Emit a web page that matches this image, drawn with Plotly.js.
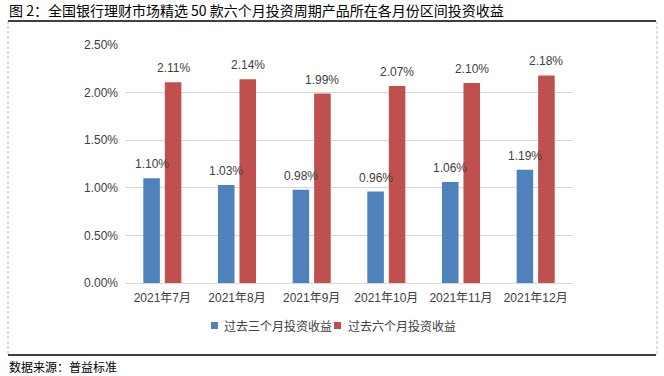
<!DOCTYPE html>
<html>
<head>
<meta charset="utf-8">
<script src="https://cdn.plot.ly/plotly-3.0.1.min.js"></script>
<style>
html,body{margin:0;padding:0;background:#fff;}
#chart{width:664px;height:376px;}
</style>
</head>
<body>
<div id="chart"></div>
<script>
// ---- data ----
const categories = ['2021年7月','2021年8月','2021年9月','2021年10月','2021年11月','2021年12月'];
const threeMonthReturn = [1.10, 1.03, 0.98, 0.96, 1.06, 1.19];
const sixMonthReturn = [2.11, 2.14, 1.99, 2.07, 2.10, 2.18];
const seriesNames = ['过去三个月投资收益', '过去六个月投资收益'];
const yTickVals = [0, 0.5, 1.0, 1.5, 2.0, 2.5];
const yTickText = ['0.00%', '0.50%', '1.00%', '1.50%', '2.00%', '2.50%'];
const titleText = '图 2：全国银行理财市场精选 50 款六个月投资周期产品所在各月份区间投资收益';
const sourceText = '数据来源：普益标准';

// ---- layout geometry ----
const W = 664, H = 376;
const M = {l: 125, r: 91, t: 45, b: 93};
const PW = W - M.l - M.r, PH = H - M.t - M.b;
const px = x => (x - M.l) / PW;
const py = y => (H - M.b - y) / PH;

const colors = ['#4F81BD', '#C0504D'];
const numFont = 'Liberation Sans, Arial, Noto Sans CJK SC, sans-serif';
const cjkFont = 'Noto Sans CJK SC, sans-serif';
const textColor = '#404040';

const traces = [
  {type: 'bar', name: seriesNames[0], x: categories, y: threeMonthReturn, marker: {color: colors[0]}, hoverinfo: 'skip'},
  {type: 'bar', name: seriesNames[1], x: categories, y: sixMonthReturn, marker: {color: colors[1]}, hoverinfo: 'skip'}
];

const bargap = 0.424, bargroupgap = 0.23;
const slot = PW / categories.length * (1 - bargap) / 2;

const annotations = [];
[threeMonthReturn, sixMonthReturn].forEach((vals, si) => {
  vals.forEach((v, i) => {
    annotations.push({
      x: categories[i], y: v, xref: 'x', yref: 'y',
      text: v.toFixed(2) + '%', showarrow: false,
      xanchor: 'center', yanchor: 'bottom',
      xshift: (si === 0 ? -1 : 1) * slot / 2, yshift: 5,
      font: {family: numFont, size: 12, color: textColor}
    });
  });
});
annotations.push({
  xref: 'paper', yref: 'paper', x: px(7), y: py(10), xanchor: 'left', yanchor: 'middle',
  text: titleText, showarrow: false, font: {family: cjkFont, size: 14, color: '#000'}
});
annotations.push({
  xref: 'paper', yref: 'paper', x: px(7), y: py(366), xanchor: 'left', yanchor: 'middle',
  text: sourceText, showarrow: false, font: {family: cjkFont, size: 12, color: '#000'}
});
// custom legend text
const legendItems = [{sq: 211, tx: 222}, {sq: 334, tx: 346}];
legendItems.forEach((it, i) => {
  annotations.push({
    xref: 'paper', yref: 'paper', x: px(it.tx), y: py(325.5), xanchor: 'left', yanchor: 'middle',
    text: seriesNames[i], showarrow: false, font: {family: cjkFont, size: 12, color: textColor}
  });
});

const shapes = [
  {type: 'line', xref: 'paper', yref: 'paper', x0: px(8), x1: px(8), y0: py(21), y1: py(355), line: {color: '#bfbfbf', width: 1, dash: '3px,2px'}},
  {type: 'line', xref: 'paper', yref: 'paper', x0: px(657), x1: px(657), y0: py(21), y1: py(355), line: {color: '#bfbfbf', width: 1, dash: '3px,2px'}},
  {type: 'line', xref: 'paper', yref: 'paper', x0: px(8), x1: px(656), y0: py(21), y1: py(21), line: {color: '#000', width: 1.5}},
  {type: 'line', xref: 'paper', yref: 'paper', x0: px(8), x1: px(656), y0: py(355), y1: py(355), line: {color: '#000', width: 1.5}}
];
legendItems.forEach((it, i) => {
  shapes.push({type: 'rect', xref: 'paper', yref: 'paper', x0: px(it.sq), x1: px(it.sq + 7), y0: py(329), y1: py(322), line: {width: 0}, fillcolor: colors[i]});
});

const layout = {
  width: W, height: H,
  margin: M,
  paper_bgcolor: '#fff', plot_bgcolor: '#fff',
  barmode: 'group', bargap: bargap, bargroupgap: bargroupgap,
  showlegend: false,
  xaxis: {
    type: 'category', showgrid: false, zeroline: false,
    showline: true, linecolor: '#d9d9d9', linewidth: 1,
    ticks: '', tickfont: {family: numFont, size: 12, color: textColor},
    ticklabelstandoff: 4
  },
  yaxis: {
    range: [0, 2.5], tickvals: yTickVals, ticktext: yTickText,
    showgrid: true, gridcolor: '#d9d9d9', gridwidth: 1,
    zeroline: false, showline: false, ticks: '',
    tickfont: {family: numFont, size: 12, color: textColor},
    ticklabelstandoff: 6
  },
  annotations: annotations,
  shapes: shapes
};

Plotly.newPlot('chart', traces, layout, {staticPlot: true, displayModeBar: false});
</script>
</body>
</html>
